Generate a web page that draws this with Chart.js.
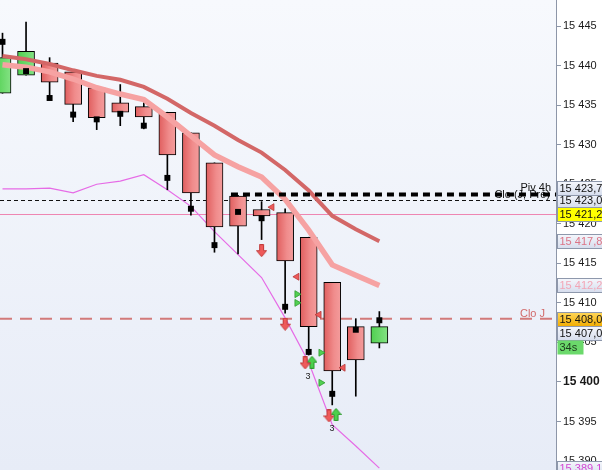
<!DOCTYPE html>
<html>
<head>
<meta charset="utf-8">
<script src="https://cdn.jsdelivr.net/npm/chart.js@4.4.0/dist/chart.umd.min.js"></script>
<style>
  html, body { margin: 0; padding: 0; background: #fff; }
  #wrap { width: 602px; height: 470px; }
</style>
</head>
<body>
<div id="wrap"><canvas id="chart" width="602" height="470"></canvas></div>
<script>
// Candles (one per bar slot)
const candleIdx = [0, 1, 2, 3, 4, 5, 6, 7, 8, 9, 10, 11, 12, 13, 14, 15, 16];
const opens  = [15436.5, 15438.8, 15440.3, 15439.2, 15437.2, 15435.3, 15434.8, 15434.1, 15431.5, 15427.7, 15423.5, 15421.8, 15421.4, 15418.3, 15412.6, 15407.0, 15404.9];
const highs  = [15444.1, 15445.5, 15441.0, 15439.2, 15437.2, 15437.6, 15435.3, 15434.1, 15431.5, 15427.7, 15423.6, 15422.8, 15421.9, 15418.3, 15412.6, 15408.0, 15408.9];
const lows   = [15436.5, 15438.8, 15435.9, 15432.9, 15431.9, 15432.4, 15432.0, 15424.3, 15421.1, 15416.4, 15416.2, 15418.0, 15408.7, 15403.4, 15397.1, 15398.2, 15404.3];
const closes = [15441.0, 15441.8, 15437.9, 15435.1, 15433.4, 15434.1, 15433.5, 15428.7, 15423.9, 15419.6, 15419.7, 15421.0, 15415.3, 15407.0, 15401.4, 15402.8, 15407.0];
const squares = [15443.0, 15439.3, 15435.9, 15433.8, 15433.2, 15433.9, 15432.4, 15425.8, 15421.9, 15417.3, 15421.5, 15420.7, 15409.5, 15403.8, 15398.5, 15406.6, 15407.8];

// Moving averages and lower band
const maSlow = [15441.2, 15440.8, 15440.2, 15439.4, 15438.7, 15438.2, 15437.3, 15435.8, 15434.0, 15432.4, 15430.6, 15429.0, 15426.8, 15424.2, 15421.0, 15419.3, 15417.8];
const maFast = [15440.1, 15439.8, 15439.2, 15438.3, 15437.2, 15436.4, 15435.7, 15433.5, 15431.1, 15428.7, 15427.2, 15425.9, 15423.1, 15419.2, 15414.8, 15413.5, 15412.2];
const band   = [15424.4, 15424.4, 15424.5, 15423.9, 15425.0, 15425.4, 15426.2, 15424.3, 15422.2, 15419.0, 15416.1, 15413.2, 15408.1, 15402.5, 15394.6, 15391.9, 15389.1];

// Signals [slot, price]
const sigDown  = [[11, 15416.6], [12, 15407.3], [12.85, 15402.4], [13.86, 15395.7]];
const sigUp    = [[13.14, 15402.5], [14.16, 15395.9]];
const sigLeft  = [[11.44, 15422.1], [12.5, 15413.3], [13.44, 15408.5], [14.46, 15401.8]];
const sigRight = [[12.5, 15411.1], [12.5, 15410.0], [13.52, 15403.7], [13.52, 15399.9]];
const sigCount = [[12.97, 15400.9, '3'], [13.99, 15394.3, '3']];

// Horizontal levels
const levelPiv = 15423.7;
const levelPivStart = 9.7;
const levelClo = 15423.0;
const levelPink = 15421.2;
const levelCloJ = 15408.0;

// Axis
const yMin = 15388.87;
const yMax = 15448.29;
const yStep = 5;
const xMin = -0.106;
const xMax = 23.5;

// Right-hand price tags
const tagValues = [15423.0, 15423.7, 15421.2, 15417.8, 15412.2, 15408.0, 15407.0, 15389.1];
const timerText = '34s';

function fmt(v, dec) {
    const s = dec ? v.toFixed(dec).replace('.', ',') : String(Math.round(v));
    return s.replace(/^(\d+)(\d{3})/, '$1 $2');
}

const tagStyles = {
    15423.0: { fill: 'light', color: '#111', dy: 0 },
    15423.7: { fill: 'light', color: '#111', dy: -6.5 },
    15421.2: { fill: 'yellow', color: '#111', dy: 0 },
    15417.8: { fill: 'light', color: '#dc7486', dy: 0 },
    15412.2: { fill: 'light', color: '#f2a6b6', dy: 0 },
    15408.0: { fill: 'orange', color: '#111', dy: 0 },
    15407.0: { fill: 'light', color: '#111', dy: 6 },
    15389.1: { fill: 'light', color: '#d245d2', dy: 0 }
};

function arrowImage(color, edge, up) {
    const c = document.createElement('canvas');
    c.width = 11; c.height = 13;
    const g = c.getContext('2d');
    g.save();
    if (up) { g.translate(0, 13); g.scale(1, -1); }
    g.beginPath();
    g.moveTo(3.5, 0.5); g.lineTo(7.5, 0.5); g.lineTo(7.5, 6.5); g.lineTo(10.5, 6.5);
    g.lineTo(5.5, 12.5); g.lineTo(0.5, 6.5); g.lineTo(3.5, 6.5); g.closePath();
    g.fillStyle = color; g.fill();
    g.strokeStyle = edge; g.lineWidth = 1; g.stroke();
    g.restore();
    return c;
}
const downArrow = arrowImage('#ef5a5a', '#c23b3b', false);
const upArrow = arrowImage('#4ccf4c', '#2a9a2a', true);

const pts = (arr) => arr.map((v, i) => ({ x: candleIdx[i], y: v }));
const sig = (arr) => arr.map(s => ({ x: s[0], y: s[1] }));

function bodyFill(c) {
    const i = c.dataIndex;
    const bull = closes[i] >= opens[i];
    const chart = c.chart;
    if (!chart.chartArea || !chart.scales.x) return bull ? '#62d662' : '#ec7777';
    const px = chart.scales.x.getPixelForValue(candleIdx[i]);
    const g = chart.ctx.createLinearGradient(px - 8.5, 0, px + 8.5, 0);
    if (bull) { g.addColorStop(0, '#4fcf4f'); g.addColorStop(1, '#84e284'); }
    else { g.addColorStop(0, '#e05e5e'); g.addColorStop(0.6, '#f08c8c'); g.addColorStop(1, '#f49c9c'); }
    return g;
}

// Background, levels, labels
const decor = {
    id: 'decor',
    beforeDraw(chart) {
        const { ctx, chartArea: a } = chart;
        ctx.save();
        ctx.fillStyle = '#ffffff';
        ctx.fillRect(0, 0, chart.width, chart.height);
        const g = ctx.createLinearGradient(0, a.top, 0, a.bottom);
        g.addColorStop(0, '#f7f9fd');
        g.addColorStop(1, '#e7ecf7');
        ctx.fillStyle = g;
        ctx.fillRect(a.left, a.top, a.right - a.left, a.bottom - a.top);
        ctx.restore();
    },
    beforeDatasetsDraw(chart) {
        const { ctx, chartArea: a, scales: { x, y } } = chart;
        ctx.save();
        ctx.beginPath();
        ctx.rect(a.left, a.top, a.right - a.left, a.bottom - a.top);
        ctx.clip();

        // pink line
        let py = Math.round(y.getPixelForValue(levelPink)) + 0.5;
        ctx.strokeStyle = '#ee86b2'; ctx.lineWidth = 1; ctx.setLineDash([]);
        ctx.beginPath(); ctx.moveTo(a.left, py); ctx.lineTo(a.right, py); ctx.stroke();

        // thin black dashed
        py = Math.round(y.getPixelForValue(levelClo)) + 0.5;
        ctx.strokeStyle = '#111'; ctx.setLineDash([4, 3]);
        ctx.beginPath(); ctx.moveTo(a.left, py); ctx.lineTo(a.right, py); ctx.stroke();

        // Clo J red dashed
        py = y.getPixelForValue(levelCloJ);
        ctx.strokeStyle = '#d27a7a'; ctx.lineWidth = 2; ctx.setLineDash([12, 8]);
        ctx.beginPath(); ctx.moveTo(a.left, py); ctx.lineTo(a.right, py); ctx.stroke();

        ctx.restore();
    },
    afterDatasetsDraw(chart) {
        const { ctx, chartArea: a, scales: { x, y } } = chart;
        ctx.save();
        ctx.beginPath();
        ctx.rect(a.left, a.top, a.right - a.left, a.bottom - a.top);
        ctx.clip();
        ctx.font = '11px "Liberation Sans", Arial, sans-serif';
        ctx.textAlign = 'right';
        ctx.textBaseline = 'alphabetic';

        // Piv 4h thick dashes + texts
        const py = y.getPixelForValue(levelPiv);
        ctx.fillStyle = '#111';
        ctx.fillText('Piv 4h', a.right - 5, py - 4);
        ctx.fillText('Clo (J, Pré)', a.right - 6, py + 3);
        ctx.strokeStyle = '#000'; ctx.lineWidth = 4; ctx.setLineDash([7, 5]);
        ctx.beginPath(); ctx.moveTo(x.getPixelForValue(levelPivStart), py); ctx.lineTo(a.right, py); ctx.stroke();
        ctx.setLineDash([]);

        // Clo J label
        ctx.fillStyle = '#d26a6a';
        ctx.fillText('Clo J', a.right - 11, y.getPixelForValue(levelCloJ) - 2);

        // counts
        ctx.font = '9px "Liberation Sans", Arial, sans-serif';
        ctx.textAlign = 'center';
        ctx.fillStyle = '#222';
        sigCount.forEach(s => ctx.fillText(s[2], x.getPixelForValue(s[0]), y.getPixelForValue(s[1]) + 4));
        ctx.restore();
    },
    afterDraw(chart) {
        const { ctx, chartArea: a, scales: { y } } = chart;
        ctx.save();
        ctx.font = '11px "Liberation Sans", Arial, sans-serif';
        ctx.textBaseline = 'middle';
        ctx.textAlign = 'left';
        const x0 = a.right + 1.5;
        const h = 14;
        let lastBottom = 0;
        tagValues.forEach(v => {
            const st = tagStyles[v];
            const cy = y.getPixelForValue(v) + st.dy;
            const top = Math.round(cy - h / 2) + 0.5;
            let fill;
            if (st.fill === 'yellow') fill = '#ffff00';
            else if (st.fill === 'orange') {
                fill = ctx.createLinearGradient(0, top, 0, top + h);
                fill.addColorStop(0, '#ffd75a'); fill.addColorStop(1, '#f2ac00');
            } else {
                fill = ctx.createLinearGradient(0, top, 0, top + h);
                fill.addColorStop(0, '#f5f7fc'); fill.addColorStop(1, '#d6dded');
            }
            ctx.fillStyle = fill;
            ctx.fillRect(x0, top, chart.width - x0 + 2, h);
            ctx.strokeStyle = '#8e98ac'; ctx.lineWidth = 1;
            ctx.strokeRect(x0, top, chart.width - x0 + 2, h);
            ctx.fillStyle = st.color;
            ctx.fillText(fmt(v, 1), x0 + 2, top + h / 2 + 0.5);
            if (v === 15407.0) lastBottom = top + h;
        });
        // timer badge under the last price
        ctx.fillStyle = '#6bd96b';
        ctx.fillRect(x0, lastBottom, 26, h);
        ctx.fillStyle = '#1d3a1d';
        ctx.fillText(timerText, x0 + 2, lastBottom + h / 2 + 0.5);
        ctx.restore();
    }
};

new Chart(document.getElementById('chart'), {
    type: 'bar',
    data: {
        datasets: [
            {
                type: 'line', data: pts(band), borderColor: '#e66be6', borderWidth: 1.2,
                pointRadius: 0, tension: 0, order: 6
            },
            {
                type: 'bar', data: candleIdx.map((x, i) => ({ x: x, y: [lows[i], highs[i]] })),
                backgroundColor: '#000', barThickness: 1, grouped: false, order: 5
            },
            {
                type: 'bar', data: candleIdx.map((x, i) => ({ x: x, y: [opens[i], closes[i]] })),
                backgroundColor: bodyFill, borderColor: '#000', borderWidth: 1, borderSkipped: false,
                barThickness: 17, grouped: false, order: 4
            },
            {
                type: 'line', data: pts(maSlow), borderColor: '#d36767', borderWidth: 4,
                pointRadius: 0, tension: 0, order: 3
            },
            {
                type: 'line', data: pts(maFast), borderColor: '#f6a2a2', borderWidth: 5.5,
                pointRadius: 0, tension: 0, order: 2
            },
            {
                type: 'scatter', data: pts(squares), pointStyle: 'rect', pointRadius: 4.2,
                backgroundColor: '#000', borderWidth: 0, order: 1
            },
            {
                type: 'scatter', data: sig(sigLeft), pointStyle: 'triangle', rotation: -90, pointRadius: 4,
                backgroundColor: '#ee5a5a', borderColor: '#b83838', borderWidth: 0.8, order: 0
            },
            {
                type: 'scatter', data: sig(sigRight), pointStyle: 'triangle', rotation: 90, pointRadius: 4,
                backgroundColor: '#52d052', borderColor: '#2d9a2d', borderWidth: 0.8, order: 0
            },
            {
                type: 'scatter', data: sig(sigDown), pointStyle: downArrow, order: 0
            },
            {
                type: 'scatter', data: sig(sigUp), pointStyle: upArrow, order: 0
            }
        ]
    },
    options: {
        responsive: false,
        animation: false,
        devicePixelRatio: 1,
        layout: { padding: 0, autoPadding: false },
        plugins: { legend: { display: false }, tooltip: { enabled: false } },
        events: [],
        scales: {
            x: { type: 'linear', display: false, min: xMin, max: xMax, offset: false },
            y: {
                type: 'linear', position: 'right', min: yMin, max: yMax,
                afterFit: (s) => { s.width = 46; s.paddingTop = 0; s.paddingBottom = 0; },
                border: { display: true, color: '#8d96a8', width: 1 },
                grid: { drawOnChartArea: false, drawTicks: true, tickLength: 5, color: '#8d96a8' },
                ticks: {
                    stepSize: yStep, includeBounds: false, padding: 2, color: '#1a1a1a',
                    font: (c) => (c.tick && c.tick.value === 15400)
                        ? { family: '"Liberation Sans", Arial, sans-serif', size: 12, weight: 'bold' }
                        : { family: '"Liberation Sans", Arial, sans-serif', size: 11 },
                    callback: (v) => fmt(v)
                }
            }
        }
    },
    plugins: [decor]
});
</script>
</body>
</html>
